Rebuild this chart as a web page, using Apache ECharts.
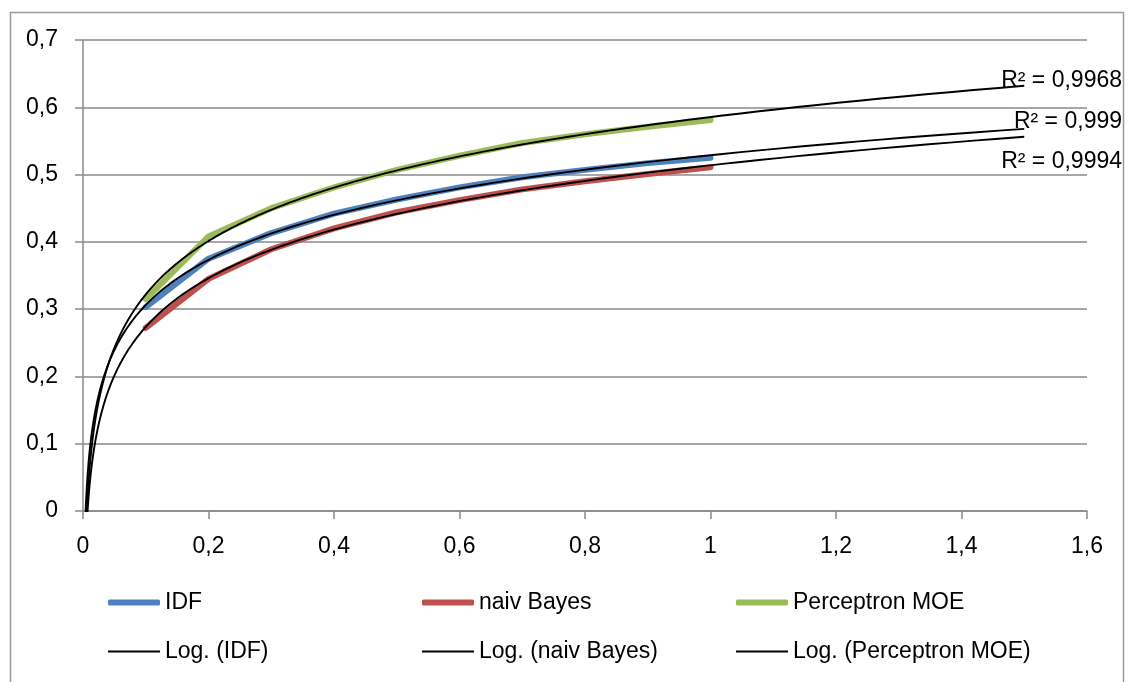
<!DOCTYPE html>
<html>
<head>
<meta charset="utf-8">
<script src="https://cdn.jsdelivr.net/npm/echarts@6/dist/echarts.min.js"></script>
<style>
html,body{margin:0;padding:0;background:#fff;}
#chart{width:1130px;height:682px;}
</style>
</head>
<body>
<div id="chart"></div>
<script>
// ---- data ----
const xValues = [0.1, 0.2, 0.3, 0.4, 0.5, 0.6, 0.7, 0.8, 0.9, 1.0];
const idf = [0.303, 0.375, 0.413, 0.442, 0.463, 0.481, 0.496, 0.507, 0.517, 0.525];
const naivBayes = [0.272, 0.345, 0.389, 0.420, 0.444, 0.462, 0.478, 0.490, 0.501, 0.511];
const perceptron = [0.315, 0.408, 0.450, 0.481, 0.507, 0.528, 0.547, 0.560, 0.571, 0.581];
const seriesNames = ['IDF', 'naiv Bayes', 'Perceptron MOE'];
const trendNames = ['Log. (IDF)', 'Log. (naiv Bayes)', 'Log. (Perceptron MOE)'];
const r2Labels = ['R² = 0,999', 'R² = 0,9994', 'R² = 0,9968'];
const trendXMax = 1.5;
const xTicks = [0, 0.2, 0.4, 0.6, 0.8, 1, 1.2, 1.4, 1.6];
const yTicks = [0, 0.1, 0.2, 0.3, 0.4, 0.5, 0.6, 0.7];

const colors = ['#4f81bd', '#c0504d', '#9bbb59'];
const FONT = 'Liberation Sans';

// logarithmic least-squares trend line fitted to each series (as the original chart's trendlines)
function logFit(xs, ys) {
  const lx = xs.map(Math.log);
  const n = xs.length;
  const mx = lx.reduce((a, b) => a + b, 0) / n;
  const my = ys.reduce((a, b) => a + b, 0) / n;
  let sxy = 0, sxx = 0;
  for (let i = 0; i < n; i++) { sxy += (lx[i] - mx) * (ys[i] - my); sxx += (lx[i] - mx) * (lx[i] - mx); }
  const a = sxy / sxx;
  return { a: a, b: my - a * mx };
}
// sample positions along the x axis for drawing the fitted curve
const sampleX = [];
for (let i = 0; i <= 240; i++) {
  sampleX.push(0.002 * Math.pow(trendXMax / 0.002, i / 240));
}
function trendData(ys) {
  const f = logFit(xValues, ys);
  return sampleX.map(x => [x, f.a * Math.log(x) + f.b]);
}

const dataSets = [idf, naivBayes, perceptron];
const series = [];
dataSets.forEach((ys, i) => {
  series.push({
    name: seriesNames[i], type: 'line', data: xValues.map((x, k) => [x, ys[k]]),
    showSymbol: false, symbol: 'none', smooth: false, z: 2,
    lineStyle: { color: colors[i], width: 6, cap: 'round', join: 'round' },
    itemStyle: { color: colors[i] }
  });
});
dataSets.forEach((ys, i) => {
  series.push({
    name: trendNames[i], type: 'line', data: trendData(ys),
    showSymbol: false, symbol: 'none', smooth: false, z: 3, clip: true,
    lineStyle: { color: '#000', width: 1.9 },
    itemStyle: { color: '#000' }
  });
});

const fmt = v => String(Number(v.toFixed(2))).replace('.', ',');

const legendCols = [108, 422, 736];
const legends = [];
seriesNames.forEach((n, i) => legends.push({
  data: [n], left: legendCols[i], top: 591, padding: 0, itemWidth: 52, itemHeight: 6,
  icon: 'roundRect', textStyle: { fontFamily: FONT, fontSize: 23, color: '#000' }
}));
trendNames.forEach((n, i) => legends.push({
  data: [n], left: legendCols[i], top: 640, padding: 0, itemWidth: 52, itemHeight: 2,
  icon: 'rect', textStyle: { fontFamily: FONT, fontSize: 23, color: '#000' }
}));

const gridColor = '#8a8a8a';
const chart = echarts.init(document.getElementById('chart'), null, { renderer: 'canvas' });
chart.setOption({
  animation: false,
  backgroundColor: '#fff',
  textStyle: { fontFamily: FONT },
  grid: { left: 83, top: 40, right: 43, bottom: 171, containLabel: false },
  xAxis: {
    type: 'value', min: xTicks[0], max: xTicks[xTicks.length - 1], interval: 0.2,
    axisLine: { show: true, lineStyle: { color: gridColor, width: 1.5 } },
    axisTick: { show: true, length: 8, lineStyle: { color: gridColor, width: 1.5 } },
    splitLine: { show: false },
    axisLabel: { margin: 24, fontSize: 23, color: '#000', fontFamily: FONT, formatter: fmt }
  },
  yAxis: {
    type: 'value', min: yTicks[0], max: yTicks[yTicks.length - 1], interval: 0.1,
    axisLine: { show: true, lineStyle: { color: gridColor, width: 1.5 } },
    axisTick: { show: true, length: 8, lineStyle: { color: gridColor, width: 1.5 } },
    splitLine: { show: true, lineStyle: { color: gridColor, width: 1.5 } },
    axisLabel: { margin: 25, fontSize: 23, color: '#000', fontFamily: FONT, formatter: fmt }
  },
  legend: legends,
  series: series,
  graphic: [
    { type: 'rect', left: 8, top: 10, shape: { width: 1113, height: 690 }, silent: true, z: -10,
      style: { fill: null, stroke: '#9a9a9a', lineWidth: 1.5 } },
    { type: 'text', right: 8, top: 69, z: 10, style: { text: r2Labels[2], font: '23px "Liberation Sans"', fill: '#000' } },
    { type: 'text', right: 8, top: 110, z: 10, style: { text: r2Labels[0], font: '23px "Liberation Sans"', fill: '#000' } },
    { type: 'text', right: 8, top: 150, z: 10, style: { text: r2Labels[1], font: '23px "Liberation Sans"', fill: '#000' } }
  ]
});
</script>
</body>
</html>
